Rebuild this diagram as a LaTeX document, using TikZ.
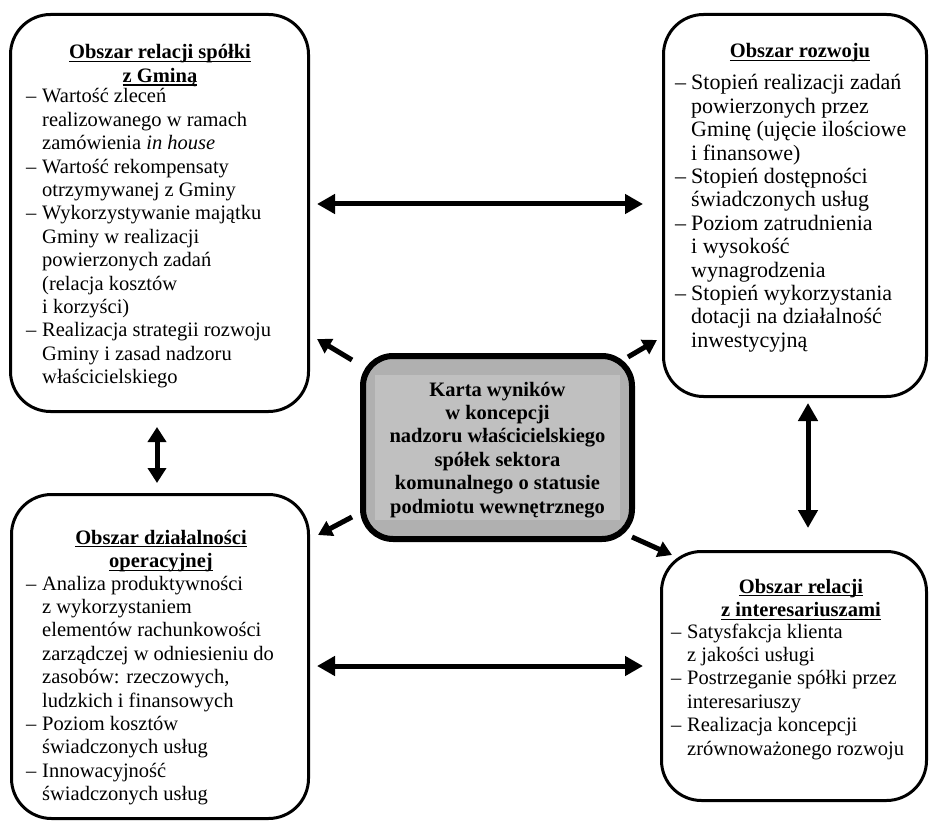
\documentclass[tikz,border=0pt]{standalone}
\usepackage{fontspec}
\setmainfont{Liberation Serif}
\usetikzlibrary{arrows.meta,calc}

\definecolor{coreouter}{RGB}{176,176,176}
\definecolor{coreinner}{RGB}{192,192,192}

% underlined heading word group (rule sits just under the baseline)
\newlength\ulwd
\newcommand\ulbf[1]{\settowidth\ulwd{#1}\rlap{\rule[-3.3pt]{\ulwd}{1.2pt}}#1}
% list dash and hanging indent
\newcommand\dsh{\makebox[16pt][l]{–}}
\newcommand\ind{\hspace*{16pt}}

\tikzset{
  area/.style={draw, line width=3pt, rounded corners=40pt, fill=white, inner sep=0pt},
  core/.style={draw, line width=6pt, rounded corners=30pt, fill=coreouter, inner sep=0pt},
  txt/.style={inner sep=0pt, font=\fontsize{20.5}{23.4}\selectfont},
  head/.style={txt, anchor=base, font=\fontsize{20.5}{23.4}\selectfont\bfseries},
  list/.style={txt, anchor=base west},
  duo/.style={line width=5pt, {Triangle[length=18pt,width=19pt]}-{Triangle[length=18pt,width=19pt]}},
  duosmall/.style={line width=5pt, {Triangle[length=15pt,width=18pt]}-{Triangle[length=15pt,width=18pt]}},
  spoke/.style={line width=5pt, -{Triangle[length=14pt,width=16pt]}}
}

\begin{document}
\begin{tikzpicture}[x=1pt,y=-1pt]
\useasboundingbox (0,0) rectangle (930,824);

% reference levels for the straight connectors
\coordinate (rowA) at (0,204);
\coordinate (rowB) at (0,666);
\coordinate (colL) at (157,0);
\coordinate (colR) at (808,0);

% the four perspective boxes
\node[area, minimum width=298pt, minimum height=397pt] (tl) at (159.5,213) {};
\node[area, minimum width=263pt, minimum height=382pt] (tr) at (795,205.5) {};
\node[area, minimum width=297pt, minimum height=324pt] (bl) at (160,656.5) {};
\node[area, minimum width=265pt, minimum height=249pt] (br) at (794,676) {};

% central box
\node[core, minimum width=269pt, minimum height=183pt] (c) at (497.5,447.5) {};
\fill[coreinner] ($(c.north west)+(15,22)$) rectangle ($(c.south east)+(-15,-22)$);
\node[head] (ct) at (497.5,396) {\begin{tabular}[t]{@{}c@{}}
Karta wyników\\
w koncepcji\\
nadzoru właścicielskiego\\
spółek sektora\\
komunalnego o statusie\\
podmiotu wewnętrznego
\end{tabular}};

% top left: relations with the municipality
\node[head] (tlT) at (160,59) {\begin{tabular}[t]{@{}c@{}}
\ulbf{Obszar relacji spółki}\\
\ulbf{z Gminą}
\end{tabular}};
\node[list] (tlL) at (26,103) {\begin{tabular}[t]{@{}l@{}}
\dsh Wartość zleceń\\
\ind realizowanego w ramach\\
\ind zamówienia \textit{in house}\\
\dsh Wartość rekompensaty\\
\ind otrzymywanej z Gminy\\
\dsh Wykorzystywanie majątku\\
\ind Gminy w realizacji\\
\ind powierzonych zadań\\
\ind (relacja kosztów\\
\ind i korzyści)\\
\dsh Realizacja strategii rozwoju\\
\ind Gminy i zasad nadzoru\\
\ind właścicielskiego
\end{tabular}};

% top right: development
\node[head] (trT) at (800,58) {\ulbf{Obszar rozwoju}};
\node[list, font=\fontsize{22}{23.4}\selectfont] (trL) at (675,90) {\begin{tabular}[t]{@{}l@{}}
\dsh Stopień realizacji zadań\\
\ind powierzonych przez\\
\ind Gminę (ujęcie ilościowe\\
\ind i finansowe)\\
\dsh Stopień dostępności\\
\ind świadczonych usług\\
\dsh Poziom zatrudnienia\\
\ind i wysokość\\
\ind wynagrodzenia\\
\dsh Stopień wykorzystania\\
\ind dotacji na działalność\\
\ind inwestycyjną
\end{tabular}};

% bottom left: operations
\node[head] (blT) at (161,544) {\begin{tabular}[t]{@{}c@{}}
\ulbf{Obszar działalności}\\
\ulbf{operacyjnej}
\end{tabular}};
\node[list] (blL) at (26,590) {\begin{tabular}[t]{@{}l@{}}
\dsh Analiza produktywności\\
\ind z wykorzystaniem\\
\ind elementów rachunkowości\\
\ind zarządczej w odniesieniu do\\
\ind zasobów: rzeczowych,\\
\ind ludzkich i finansowych\\
\dsh Poziom kosztów\\
\ind świadczonych usług\\
\dsh Innowacyjność\\
\ind świadczonych usług
\end{tabular}};

% bottom right: stakeholders
\node[head] (brT) at (801,593) {\begin{tabular}[t]{@{}c@{}}
\ulbf{Obszar relacji}\\
\ulbf{z interesariuszami}
\end{tabular}};
\node[list] (brL) at (671,638) {\begin{tabular}[t]{@{}l@{}}
\dsh Satysfakcja klienta\\
\ind z jakości usługi\\
\dsh Postrzeganie spółki przez\\
\ind interesariuszy\\
\dsh Realizacja koncepcji\\
\ind zrównoważonego rozwoju
\end{tabular}};

% two-way links between neighbouring boxes
\draw[duo, shorten <=7pt, shorten >=19pt] (tl.east |- rowA) -- (tr.west |- rowA);
\draw[duo, shorten <=7pt, shorten >=17pt] (bl.east |- rowB) -- (br.west |- rowB);
\draw[duosmall, shorten <=14pt, shorten >=10pt] (tl.south -| colL) -- (bl.north -| colL);
\draw[duo, shorten <=5pt, shorten >=22pt] (tr.south -| colR) -- (br.north -| colR);

% spokes from the central box
\draw[spoke] ($(c.north west)+(-8,7)$) -- ($(c.north west)+(-43,-14)$);
\draw[spoke] ($(c.north east)+(-7,4)$) -- ($(c.north east)+(22,-13)$);
\draw[spoke] ($(c.south west)+(-8,-25)$) -- ($(c.south west)+(-42,-7)$);
\draw[spoke] ($(c.south east)+(-3,-5)$) -- ($(c.south east)+(37,13)$);
\end{tikzpicture}
\end{document}
